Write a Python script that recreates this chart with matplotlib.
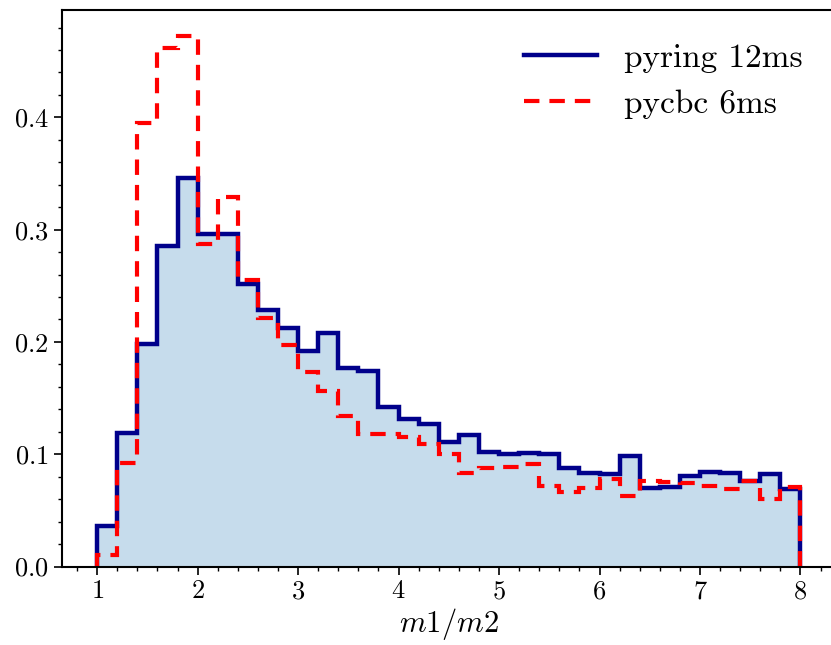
import matplotlib
matplotlib.use('Agg')
import matplotlib.pyplot as plt
from matplotlib.ticker import MultipleLocator
from matplotlib.lines import Line2D
import numpy as np

plt.rcParams['font.family'] = 'serif'
plt.rcParams['font.serif'] = ['cmr10']
plt.rcParams['mathtext.fontset'] = 'cm'
plt.rcParams['axes.formatter.use_mathtext'] = True

# bin edges of the mass ratio histogram
edges = np.linspace(1.0, 8.0, 36)
centres = 0.5 * (edges[1:] + edges[:-1])

# normalised counts
pyring = [0.036, 0.119, 0.198, 0.285, 0.346, 0.296, 0.296, 0.252, 0.228, 0.212,
          0.192, 0.208, 0.177, 0.174, 0.142, 0.131, 0.127, 0.111, 0.117, 0.102,
          0.100, 0.101, 0.100, 0.0875, 0.0835, 0.082, 0.098, 0.070, 0.071, 0.081,
          0.0845, 0.083, 0.076, 0.082, 0.069]
pycbc = [0.010, 0.092, 0.395, 0.462, 0.472, 0.287, 0.329, 0.255, 0.221, 0.197,
         0.173, 0.156, 0.134, 0.118, 0.118, 0.115, 0.109, 0.100, 0.083, 0.0875,
         0.089, 0.091, 0.072, 0.066, 0.070, 0.078, 0.0625, 0.0765, 0.075, 0.074,
         0.0715, 0.069, 0.076, 0.060, 0.071]
labels = ['pyring 12ms', 'pycbc 6ms']

dash = (0, (3.7, 2.4))

fig = plt.figure(figsize=(8.31, 6.45), dpi=100)
ax = fig.add_axes([0.0746, 0.1217, 0.931, 0.8628])

ax.hist(centres, bins=edges, weights=pyring, histtype='stepfilled',
        color='C0', alpha=0.25, lw=0)
ax.hist(centres, bins=edges, weights=pyring, histtype='step',
        color='darkblue', lw=3.2)
ax.hist(centres, bins=edges, weights=pycbc, histtype='step',
        color='red', lw=3.0, ls=dash)

ax.set_xlabel('$m1/m2$', fontsize=22, labelpad=2)
ax.xaxis.set_major_locator(MultipleLocator(1))
ax.xaxis.set_minor_locator(MultipleLocator(0.2))
ax.yaxis.set_major_locator(MultipleLocator(0.1))
ax.yaxis.set_minor_locator(MultipleLocator(0.02))
ax.tick_params(which='major', length=6, width=1.2, labelsize=19)
ax.tick_params(which='minor', length=3, width=1.0)
for s in ax.spines.values():
    s.set_linewidth(1.5)
ax.spines['right'].set_visible(False)  # cut off in the original

handles = [Line2D([], [], color='darkblue', lw=3.2),
           Line2D([], [], color='red', lw=3.0, ls=dash)]
ax.legend(handles, labels, loc='upper right', frameon=False, fontsize=24,
          handlelength=2.2, borderaxespad=0.6, handletextpad=0.8)

fig.savefig('out.png', dpi=100)
